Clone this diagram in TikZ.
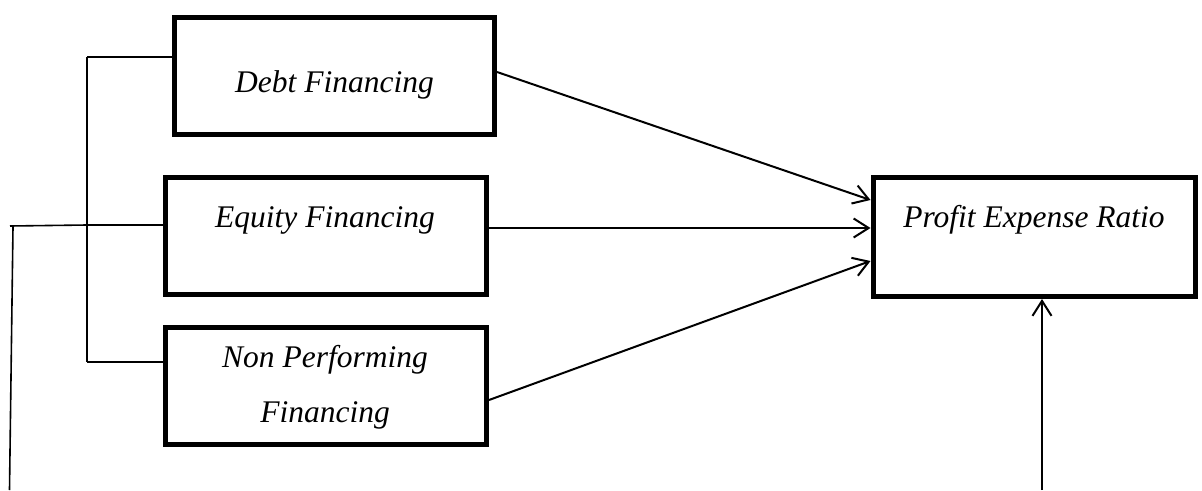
\documentclass[tikz,border=0pt]{standalone}
\usepackage{fontspec}
\setmainfont{Liberation Serif}
\usetikzlibrary{arrows.meta}
\begin{document}
\begin{tikzpicture}[x=1pt,y=-1pt,
  box/.style={draw, line width=5pt, minimum width=320pt, minimum height=117pt, inner sep=0pt},
  lbl/.style={font=\fontsize{31.5}{55}\selectfont\itshape, anchor=base, inner sep=0pt, align=center},
  link/.style={line width=2pt},
  arr/.style={line width=2pt, -{Straight Barb[length=15pt,width=19pt]}}]
\useasboundingbox (0,0) rectangle (1202,490);

% boxes
\node[box] (debt) at (334.5,76) {};
\node[box, minimum width=321pt] (equity) at (326,236) {};
\node[box, minimum width=321pt] (npf) at (326,386) {};
\node[box, minimum width=322pt, minimum height=119pt] (per) at (1034,237) {};

% labels (a two-line label sits on the baseline of its last line)
\node[lbl] (tdebt) at (334.5,92) {Debt Financing};
\node[lbl] (tequity) at (325,227) {Equity Financing};
\node[lbl] (tnpf) at (325,422) {Non Performing\\Financing};
\node[lbl] (tper) at (1034,227) {Profit Expense Ratio};

% bracket joining the three financing variables
\coordinate (bt) at (87,57);
\coordinate (bm) at (87,225);
\coordinate (bb) at (87,362);
\draw[link] (bt) -- (bb);
\draw[link] (bt) -- (bt -| debt.west);
\draw[link] (bm) -- (bm -| equity.west);
\draw[link] (bb) -- (bb -| npf.west);

% line leading down from the bracket
\coordinate (le) at (10,226);
\coordinate (lt) at (13,227);
\coordinate (lb) at (9.5,490);
\draw[line width=1.6pt] (le) -- (bm);
\draw[line width=1.6pt] (lt) -- (lb);

% arrows into the dependent variable
\draw[arr] ([yshift=4pt]debt.east) -- ([yshift=37pt]per.west);
\draw[arr] ([yshift=9pt]equity.east |- per.west) -- ([yshift=9pt]per.west);
\draw[arr] ([yshift=-14pt]npf.east) -- ([yshift=-24pt]per.west);

% arrow rising from below
\coordinate (pb) at (1042,490);
\draw[arr] (pb) -- (pb |- per.south);
\end{tikzpicture}
\end{document}
